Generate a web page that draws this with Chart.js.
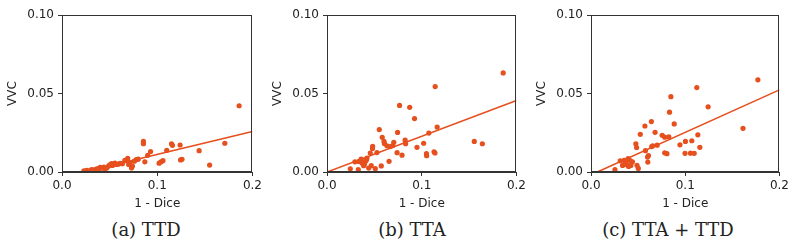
<!DOCTYPE html>
<html>
<head>
<meta charset="utf-8">
<script src="https://cdn.jsdelivr.net/npm/chart.js@4.4.1/dist/chart.umd.min.js"></script>
<style>
  body { margin: 0; background: #fff; width: 800px; height: 252px; overflow: hidden; position: relative; }
  .panel { position: absolute; top: 0; }
  .caption { position: absolute; top: 219px; width: 200px; text-align: center;
    font-family: 'DejaVu Serif', serif; font-size: 18px; color: #222; }
</style>
</head>
<body>
<div class="panel" style="left:0px"><canvas id="chart-ttd" width="265" height="215"></canvas></div>
<div class="panel" style="left:265px"><canvas id="chart-tta" width="264" height="215"></canvas></div>
<div class="panel" style="left:529px"><canvas id="chart-both" width="263" height="215"></canvas></div>
<div class="caption" style="left:46px">(a) TTD</div>
<div class="caption" style="left:312px">(b) TTA</div>
<div class="caption" style="left:568px">(c) TTA + TTD</div>

<script>
// ticks
var xTicks = [0, 0.1, 0.2];
var xTickLabels = ['0.0', '0.1', '0.2'];
var yTicks = [0, 0.05, 0.1];
var yTickLabels = ['0.00', '0.05', '0.10'];

// (a) TTD
var ttdX = [0.186, 0.171, 0.155, 0.144, 0.124, 0.1245, 0.126, 0.115, 0.116, 0.110,
  0.106, 0.104, 0.102, 0.093, 0.090, 0.0855, 0.0855, 0.087, 0.078, 0.076,
  0.074, 0.073, 0.0714, 0.069, 0.0676, 0.0634, 0.059, 0.0555, 0.052, 0.053,
  0.0485, 0.047, 0.044, 0.0415, 0.039, 0.036, 0.033, 0.029, 0.026, 0.040,
  0.061, 0.031, 0.037, 0.045, 0.050, 0.057, 0.066, 0.070, 0.080, 0.023];
var ttdY = [0.0422, 0.0183, 0.0044, 0.0136, 0.0172, 0.0077, 0.0081, 0.018, 0.017, 0.0138,
  0.0072, 0.0065, 0.0056, 0.013, 0.0106, 0.0195, 0.018, 0.0065, 0.0079, 0.0069,
  0.0038, 0.0026, 0.0058, 0.0087, 0.0072, 0.0053, 0.005, 0.0057, 0.0053, 0.0042,
  0.0036, 0.0026, 0.0031, 0.0025, 0.0022, 0.0018, 0.0013, 0.0008, 0.001, 0.0029,
  0.0055, 0.0015, 0.002, 0.0015, 0.0045, 0.0048, 0.0075, 0.0048, 0.0082, 0.0008];

// (b) TTA
var ttaX = [0.186, 0.1142, 0.1163, 0.1075, 0.102, 0.113, 0.114, 0.105, 0.1052, 0.1555,
  0.164, 0.0766, 0.0873, 0.0924, 0.095, 0.0825, 0.083, 0.0792, 0.0745, 0.074,
  0.0705, 0.0695, 0.0655, 0.0583, 0.0552, 0.0602, 0.0606, 0.0633, 0.0668, 0.0573,
  0.0527, 0.0482, 0.0457, 0.051, 0.0467, 0.0422, 0.0404, 0.0369, 0.0334, 0.0295,
  0.0387, 0.044, 0.033, 0.0246, 0.0415, 0.0395, 0.036, 0.048];
var ttaY = [0.0631, 0.0544, 0.0286, 0.0248, 0.0183, 0.0129, 0.0121, 0.0117, 0.0104, 0.0195,
  0.018, 0.0424, 0.0412, 0.034, 0.0157, 0.0203, 0.018, 0.0107, 0.0252, 0.0123,
  0.0189, 0.0168, 0.0068, 0.0221, 0.027, 0.0195, 0.0181, 0.0167, 0.0162, 0.0039,
  0.0124, 0.0163, 0.0121, 0.0021, 0.004, 0.0089, 0.0067, 0.0057, 0.0067, 0.0065,
  0.004, 0.0025, 0.0015, 0.002, 0.0075, 0.005, 0.0082, 0.015];

// (c) TTA + TTD
var bothX = [0.1771, 0.1613, 0.1123, 0.1243, 0.1134, 0.1155, 0.107, 0.1002, 0.0998, 0.1056,
  0.1095, 0.0944, 0.0848, 0.0883, 0.0833, 0.0826, 0.0782, 0.0755, 0.0782, 0.0806,
  0.068, 0.0641, 0.0572, 0.0523, 0.0702, 0.0644, 0.0655, 0.0578, 0.061, 0.060,
  0.0603, 0.0476, 0.0484, 0.0488, 0.0502, 0.0352, 0.0394, 0.0416, 0.038, 0.0423,
  0.0335, 0.031, 0.0254, 0.037, 0.044, 0.040];
var bothY = [0.0587, 0.0278, 0.0538, 0.0415, 0.0237, 0.0157, 0.0199, 0.0195, 0.0119, 0.012,
  0.0119, 0.0173, 0.048, 0.0306, 0.0381, 0.0224, 0.0222, 0.0234, 0.0122, 0.0117,
  0.0253, 0.0321, 0.0293, 0.024, 0.0171, 0.0162, 0.0167, 0.0136, 0.0105, 0.0095,
  0.0063, 0.018, 0.0156, 0.0043, 0.0023, 0.0074, 0.0085, 0.0073, 0.0046, 0.0042,
  0.0042, 0.0071, 0.0015, 0.006, 0.0065, 0.0035];

// fitted lines, end points at x = 0 and x = 0.2
var fitX = [0, 0.2];
var ttdFit = [-0.0034, 0.0258];
var ttaFit = [0.0, 0.0455];
var bothFit = [-0.0018, 0.0523];

var orange = '#e64f1e';
var axisColor = '#333';
var textColor = '#222';
var font = { family: 'DejaVu Sans', size: 12 };

function toPoints(xs, ys) {
  return xs.map(function (x, i) { return { x: x, y: ys[i] }; });
}

// draws the top and right spines as well
var boxPlugin = {
  id: 'box',
  afterDatasetsDraw: function (chart) {
    var a = chart.chartArea, c = chart.ctx;
    c.save();
    c.strokeStyle = axisColor;
    c.lineWidth = 1;
    c.strokeRect(Math.round(a.left) + 0.5, Math.round(a.top) + 0.5,
      Math.round(a.right - a.left) - 1, Math.round(a.bottom - a.top) - 1);
    c.restore();
  }
};

function make(id, xs, ys, fit) {
  var ctx = document.getElementById(id);
  return new Chart(ctx, {
    type: 'scatter',
    data: {
      datasets: [{
        data: toPoints(xs, ys),
        backgroundColor: orange,
        borderWidth: 0,
        pointRadius: 2.6
      }, {
        type: 'line',
        data: toPoints(fitX, fit),
        borderColor: orange,
        borderWidth: 1.6,
        pointRadius: 0,
        fill: false
      }]
    },
    options: {
      responsive: false,
      animation: false,
      layout: { padding: { top: 15, right: 12, left: 0, bottom: 0 } },
      plugins: { legend: { display: false }, tooltip: { enabled: false } },
      scales: {
        x: {
          type: 'linear', min: 0, max: 0.2,
          afterBuildTicks: function (axis) {
            axis.ticks = xTicks.map(function (v) { return { value: v }; });
          },
          afterFit: function (axis) { axis.height = 43; },
          ticks: {
            color: textColor, font: font, padding: 3, maxRotation: 0,
            callback: function (v, i) { return xTickLabels[i]; }
          },
          grid: { drawOnChartArea: false, tickLength: 4, color: axisColor },
          border: { color: axisColor },
          title: { display: true, text: '1 - Dice', color: textColor, font: font,
            padding: { top: 0, bottom: 4 } }
        },
        y: {
          type: 'linear', min: 0, max: 0.1,
          afterBuildTicks: function (axis) {
            axis.ticks = yTicks.map(function (v) { return { value: v }; });
          },
          afterFit: function (axis) { axis.width = 62; },
          ticks: {
            color: textColor, font: font, padding: 4,
            callback: function (v, i) { return yTickLabels[i]; }
          },
          grid: { drawOnChartArea: false, tickLength: 4, color: axisColor },
          border: { color: axisColor },
          title: { display: true, text: 'VVC', color: textColor, font: font,
            padding: { top: 6, bottom: 0 } }
        }
      }
    },
    plugins: [boxPlugin]
  });
}

make('chart-ttd', ttdX, ttdY, ttdFit);
make('chart-tta', ttaX, ttaY, ttaFit);
make('chart-both', bothX, bothY, bothFit);
</script>
</body>
</html>
